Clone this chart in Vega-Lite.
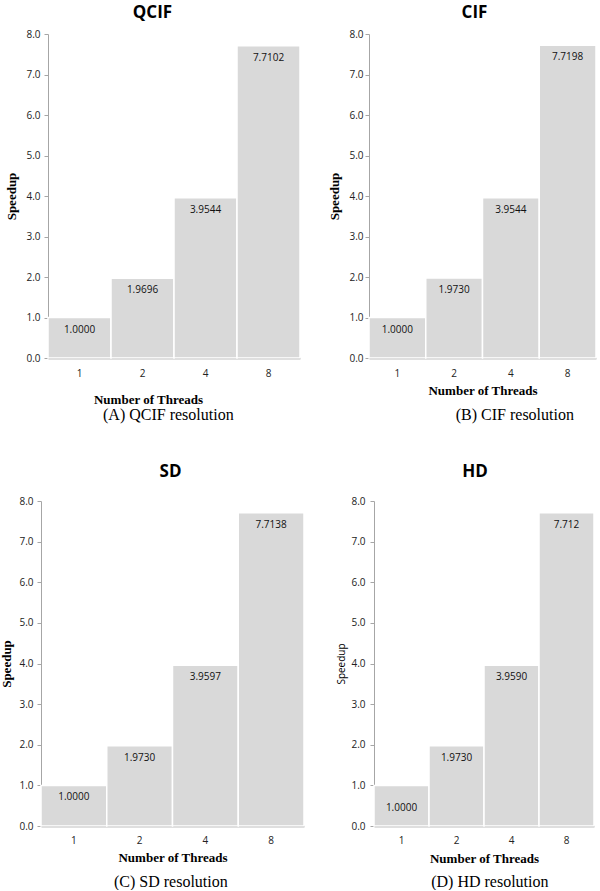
{
  "$schema": "https://vega.github.io/schema/vega-lite/v6.json",
  "background": "white",
  "padding": {"left": 0, "top": 4, "right": 0, "bottom": 0},
  "data": {"values": [
    {"panel": "A", "threads": 1, "speedup": 1.0, "label": "1.0000"},
    {"panel": "A", "threads": 2, "speedup": 1.9696, "label": "1.9696"},
    {"panel": "A", "threads": 4, "speedup": 3.9544, "label": "3.9544"},
    {"panel": "A", "threads": 8, "speedup": 7.7102, "label": "7.7102"},
    {"panel": "B", "threads": 1, "speedup": 1.0, "label": "1.0000"},
    {"panel": "B", "threads": 2, "speedup": 1.973, "label": "1.9730"},
    {"panel": "B", "threads": 4, "speedup": 3.9544, "label": "3.9544"},
    {"panel": "B", "threads": 8, "speedup": 7.7198, "label": "7.7198"},
    {"panel": "C", "threads": 1, "speedup": 1.0, "label": "1.0000"},
    {"panel": "C", "threads": 2, "speedup": 1.973, "label": "1.9730"},
    {"panel": "C", "threads": 4, "speedup": 3.9597, "label": "3.9597"},
    {"panel": "C", "threads": 8, "speedup": 7.7138, "label": "7.7138"},
    {"panel": "D", "threads": 1, "speedup": 1.0, "label": "1.0000"},
    {"panel": "D", "threads": 2, "speedup": 1.973, "label": "1.9730"},
    {"panel": "D", "threads": 4, "speedup": 3.959, "label": "3.9590"},
    {"panel": "D", "threads": 8, "speedup": 7.712, "label": "7.712"}
  ]},
  "config": {
    "view": {"stroke": null},
    "axis": {"labelFont": "Open Sans", "labelFontSize": 10, "labelColor": "#222222", "grid": false, "titleFont": "Liberation Serif", "titleFontSize": 13, "titleFontWeight": "bold", "titleColor": "#000000"},
    "axisX": {"ticks": false, "labelAngle": 0, "labelPadding": 10, "domainColor": "#7f7f7f", "domainWidth": 1.5, "titlePadding": 4},
    "axisY": {"tickSize": 4, "tickColor": "#a6a6a6", "domainColor": "#a6a6a6", "labelPadding": 4, "titlePadding": 5, "values": [0, 1, 2, 3, 4, 5, 6, 7, 8], "format": ".1f"},
    "title": {"font": "Open Sans", "fontSize": 17, "fontWeight": "bold", "color": "#000000"}
  },
  "columns": 1,
  "align": "none",
  "spacing": 40,
  "concat": [
    {
      "spacing": 27,
      "hconcat": [
        {
          "title": {"text": "(A) QCIF resolution", "orient": "bottom", "anchor": "middle", "font": "Liberation Serif", "fontSize": 16, "fontWeight": "normal", "offset": 1, "dx": 15},
          "vconcat": [{
            "title": {"text": "QCIF", "offset": 7, "dx": -18},
            "width": 259, "height": 324,
            "transform": [{"filter": "datum.panel === 'A'"}],
            "encoding": {
              "x": {"field": "threads", "type": "ordinal", "scale": {"paddingInner": 0, "paddingOuter": 0, "range": [7, 259]}, "axis": {"title": "Number of Threads", "titleX": 107, "titlePadding": 15}},
              "y": {"field": "speedup", "type": "quantitative", "scale": {"domain": [0, 8]}, "axis": {"title": "Speedup", "titlePadding": 7, "offset": -7}}
            },
            "layer": [
              {"mark": {"type": "bar", "color": "#d9d9d9", "stroke": "white", "strokeWidth": 1.5}},
              {"mark": {"type": "text", "baseline": "middle", "dy": 12, "font": "Open Sans", "fontSize": 10, "color": "#111111"}, "encoding": {"text": {"field": "label"}}}
            ]
          }]
        },
        {
          "title": {"text": "(B) CIF resolution", "orient": "bottom", "anchor": "middle", "font": "Liberation Serif", "fontSize": 16, "fontWeight": "normal", "offset": 10, "dx": 52},
          "vconcat": [{
            "title": {"text": "CIF", "offset": 7, "dx": -8},
            "width": 227, "height": 324,
            "transform": [{"filter": "datum.panel === 'B'"}],
            "encoding": {
              "x": {"field": "threads", "type": "ordinal", "scale": {"paddingInner": 0, "paddingOuter": 0}, "axis": {"title": "Number of Threads", "titlePadding": 6}},
              "y": {"field": "speedup", "type": "quantitative", "scale": {"domain": [0, 8]}, "axis": {"title": "Speedup", "labelPadding": 2, "titlePadding": 7}}
            },
            "layer": [
              {"mark": {"type": "bar", "color": "#d9d9d9", "stroke": "white", "strokeWidth": 1.5}},
              {"mark": {"type": "text", "baseline": "middle", "dy": 12, "font": "Open Sans", "fontSize": 10, "color": "#111111"}, "encoding": {"text": {"field": "label"}}}
            ]
          }]
        }
      ]
    },
    {
      "spacing": 31,
      "hconcat": [
        {
          "title": {"text": "(C) SD resolution", "orient": "bottom", "anchor": "middle", "font": "Liberation Serif", "fontSize": 16, "fontWeight": "normal", "offset": 10, "dx": 18},
          "vconcat": [{
            "title": {"text": "SD", "offset": 15, "dx": -2},
            "width": 263, "height": 325,
            "transform": [{"filter": "datum.panel === 'C'"}],
            "encoding": {
              "x": {"field": "threads", "type": "ordinal", "scale": {"paddingInner": 0, "paddingOuter": 0}, "axis": {"title": "Number of Threads", "labelPadding": 9, "titlePadding": 6}},
              "y": {"field": "speedup", "type": "quantitative", "scale": {"domain": [0, 8]}, "axis": {"title": "Speedup", "labelPadding": 4, "titlePadding": 5}}
            },
            "layer": [
              {"mark": {"type": "bar", "color": "#d9d9d9", "stroke": "white", "strokeWidth": 1.5}},
              {"mark": {"type": "text", "baseline": "middle", "dy": 12, "font": "Open Sans", "fontSize": 10, "color": "#111111"}, "encoding": {"text": {"field": "label"}}}
            ]
          }]
        },
        {
          "title": {"text": "(D) HD resolution", "orient": "bottom", "anchor": "middle", "font": "Liberation Serif", "fontSize": 16, "fontWeight": "normal", "offset": 9, "dx": 24},
          "vconcat": [{
            "title": {"text": "HD", "offset": 15, "dx": -9},
            "width": 220, "height": 325,
            "transform": [{"filter": "datum.panel === 'D'"}],
            "encoding": {
              "x": {"field": "threads", "type": "ordinal", "scale": {"paddingInner": 0, "paddingOuter": 0}, "axis": {"title": "Number of Threads", "labelPadding": 9, "titlePadding": 7}},
              "y": {"field": "speedup", "type": "quantitative", "scale": {"domain": [0, 8]}, "axis": {"title": "Speedup", "titleFont": "Open Sans", "titleFontSize": 10, "titleFontWeight": "normal", "labelPadding": 5, "titlePadding": 4}}
            },
            "layer": [
              {"mark": {"type": "bar", "color": "#d9d9d9", "stroke": "white", "strokeWidth": 1.5}},
              {"transform": [{"filter": "datum.threads !== 1"}], "mark": {"type": "text", "baseline": "middle", "dy": 12, "font": "Open Sans", "fontSize": 10, "color": "#111111"}, "encoding": {"text": {"field": "label"}}},
              {"transform": [{"filter": "datum.threads === 1"}], "mark": {"type": "text", "baseline": "middle", "dy": 23, "font": "Open Sans", "fontSize": 10, "color": "#111111"}, "encoding": {"text": {"field": "label"}}}
            ]
          }]
        }
      ]
    }
  ]
}
